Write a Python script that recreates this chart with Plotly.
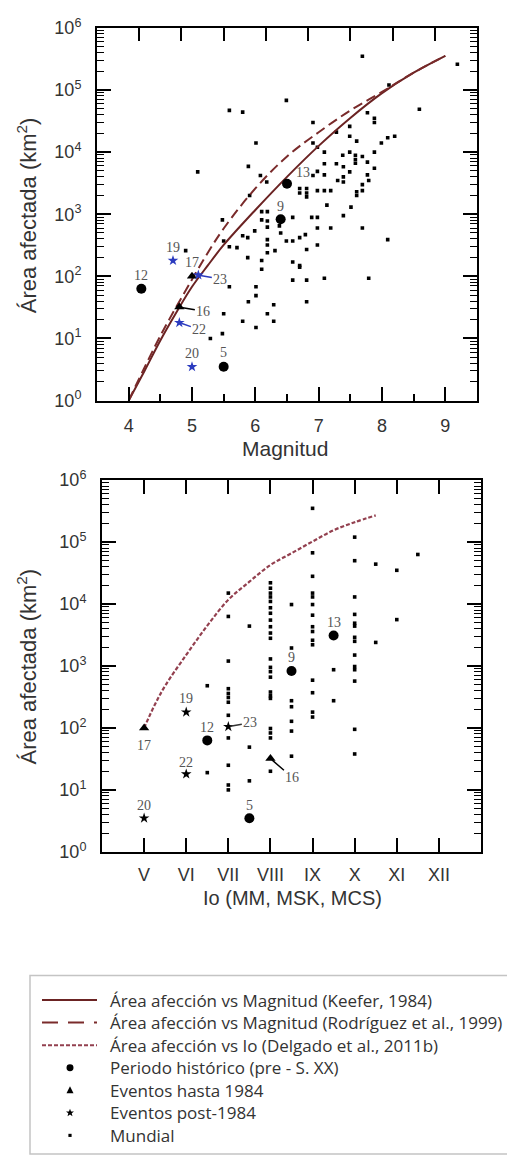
import numpy as np
import plotly.graph_objects as go

# ---------------- data ----------------
keefer_mag = [4.0, 4.25, 4.5, 4.75, 5.0, 5.25, 5.5, 6.0, 6.5, 7.0, 7.5, 8.0, 8.5, 9.0]
keefer_area = [1, 3.0, 9.3, 26, 68, 150, 320, 1170, 4000, 12600, 35500, 89000, 190000, 355000]
rodriguez_mag = [4.0, 4.5, 5.0, 5.25, 5.5, 6.0, 6.5, 7.0, 7.5, 8.0, 8.5, 9.0]
rodriguez_area = [1, 11, 89, 240, 590, 2600, 8500, 20900, 46800, 93000, 190000, 355000]
delgado_io = [5.0, 5.25, 5.5, 6.0, 6.5, 7.0, 7.5, 8.0, 8.5, 9.0, 9.5, 10.0, 10.5]
delgado_area = [100, 234, 480, 1510, 4470, 11700, 22900, 42700, 66000, 102000, 155000, 209000, 269000]

mw_mag = [7.69, 9.19, 8.11, 6.49, 8.59, 5.59, 5.80, 7.77, 7.88, 7.88, 6.91, 7.49, 7.28, 7.49, 7.60,
          6.91, 6.98, 6.01, 8.20, 8.09, 7.99, 7.09, 7.38, 7.49, 7.58, 7.58, 7.58, 7.69, 7.88, 7.77,
          7.09, 7.28, 7.39, 7.49, 7.39, 7.39, 7.30, 7.77, 7.79, 7.88, 6.98, 7.09, 7.69, 7.69, 7.60,
          7.60, 5.89, 6.91, 6.70, 6.70, 6.81, 6.81, 6.81, 6.98, 7.09, 7.19, 7.13, 7.51, 7.39, 6.89,
          6.98, 6.98, 7.19, 7.69, 6.59, 8.09, 6.10, 6.19, 6.10, 6.19, 6.19, 5.99, 6.38, 6.40, 6.49,
          6.59, 6.70, 6.79, 6.98, 6.19, 6.19, 5.80, 5.88, 5.09, 6.08, 6.18, 5.91, 5.48, 5.50, 5.59,
          5.71, 4.90, 6.31, 6.19, 5.88, 6.10, 6.10, 6.59, 6.70, 6.70, 6.81, 6.59, 6.81, 7.09, 7.79,
          6.01, 6.01, 5.89, 6.81, 6.29, 6.19, 6.29, 5.80, 6.01, 5.59, 5.50, 5.48, 5.29]
mw_area = [3.5e5, 2.6e5, 1.2e5, 6.8e4, 4.9e4, 4.7e4, 4.4e4, 4.3e4, 3.5e4, 3.0e4, 3.0e4, 2.6e4, 2.1e4, 1.8e4, 1.5e4,
           1.4e4, 1.2e4, 1.4e4, 1.8e4, 1.7e4, 1.4e4, 1.0e4, 8900, 1.0e4, 8900, 7600, 6600, 8500, 1.0e4, 6900,
           6500, 6500, 5800, 4800, 4000, 3300, 3500, 4300, 3500, 5500, 4900, 4300, 3000, 2400, 2300,
           2000, 5900, 4200, 2600, 2200, 2600, 2200, 1900, 2400, 2400, 2400, 1400, 1300, 950, 890,
           890, 600, 600, 600, 890, 390, 1100, 1100, 810, 780, 620, 540, 650, 500, 370,
           370, 420, 470, 320, 390, 320, 450, 420, 4800, 4200, 3300, 2000, 810, 370, 300,
           290, 260, 260, 240, 200, 180, 130, 170, 150, 140, 270, 87, 87, 93, 93,
           68, 49, 39, 39, 35, 25, 19, 19, 15, 68, 25, 12, 10]
assert len(mw_mag) == len(mw_area)

io_mw = ([6.5] * 2 + [7.0] * 12 + [7.5] * 3 + [8.0] * 22 + [8.5] * 7 + [9.0] * 15 +
         [9.5] * 2 + [10.0] * 14 + [10.5] * 2 + [11.0] * 2 + [11.5])
io_mw_area = [480, 19,
              1.5e4, 6300, 1200, 430, 360, 310, 260, 160, 69, 25, 12, 10,
              4400, 49, 14,
              2.2e4, 1.8e4, 1.5e4, 1.3e4, 1.1e4, 8700, 7100, 5500, 4300, 3400, 2800, 1300, 950, 810,
              660, 380, 330, 300, 98, 83, 69, 20,
              9800, 1950, 275, 220, 128, 89, 35,
              3.5e5, 6.7e4, 2.8e4, 1.5e4, 1.3e4, 9800, 6600, 4300, 3600, 2600, 2200, 590, 370, 180, 150,
              870, 275,
              1.2e5, 5.0e4, 1.3e4, 6800, 4900, 4400, 2900, 2500, 1500, 980, 870, 570, 95, 38,
              4.4e4, 2400,
              3.5e4, 5600,
              6.3e4]
assert len(io_mw) == len(io_mw_area)

hist_id = ["12", "5", "9", "13"]
hist_mag = [4.2, 5.5, 6.4, 6.5]
hist_io = [6.5, 7.5, 8.5, 9.5]
hist_area = [63, 3.5, 830, 3100]

tri_id = ["17", "16"]
tri_mag = [5.0, 4.8]
tri_io = [5.0, 8.0]
tri_area = [100, 32]

star_id = ["19", "23", "22", "20"]
star_mag = [4.7, 5.1, 4.8, 5.0]
star_io = [6.0, 7.0, 6.0, 5.0]
star_area = [180, 105, 18, 3.5]

mag_range = [3.5, 9.5]
top_aux_ticks = [1, 2, 3, 4, 5, 6, 7, 8]      # secondary 0-9 scale drawn on the top edge
top_aux_range = [0, 9]
io_ticks = [5, 6, 7, 8, 9, 10, 11, 12]
io_labels = ["V", "VI", "VII", "VIII", "IX", "X", "XI", "XII"]
io_range = [4, 13]
y_ticks = [1, 10, 100, 1e3, 1e4, 1e5, 1e6]
y_labels = ["10<sup>%d</sup>" % i for i in range(7)]
y_range_log = [0, 6]

legend_labels = ["Área afección vs Magnitud (Keefer, 1984)",
                 "Área afección vs Magnitud (Rodríguez et al., 1999)",
                 "Área afección vs Io (Delgado et al., 2011b)",
                 "Periodo histórico (pre - S. XX)",
                 "Eventos hasta 1984",
                 "Eventos post-1984",
                 "Mundial"]

# ---------------- styles ----------------
OFF = 8                      # html body margin
W, H = 515 - OFF, 1165 - OFF
SANS = "Liberation Sans, Arial, sans-serif"
SERIF = "Liberation Serif, Times New Roman, serif"
C_KEEFER = "#6b2323"
C_ROD = "#7a2b2b"
C_IO = "#93404f"
C_BLUE = "#2b3bbf"
C_AX = "black"

def px(x):
    return (x - OFF) / W

def py(y):
    return 1 - (y - OFF) / H

fig = go.Figure()

fig.add_trace(go.Scatter(x=mw_mag, y=mw_area, mode="markers", xaxis="x", yaxis="y",
                         marker=dict(size=3.6, color="black", symbol="square"), showlegend=False))
fig.add_trace(go.Scatter(x=keefer_mag, y=keefer_area, mode="lines", xaxis="x", yaxis="y",
                         line=dict(color=C_KEEFER, width=2, shape="spline"), showlegend=False))
fig.add_trace(go.Scatter(x=rodriguez_mag, y=rodriguez_area, mode="lines", xaxis="x", yaxis="y",
                         line=dict(color=C_ROD, width=2, dash="10px,5px", shape="spline"), showlegend=False))
fig.add_trace(go.Scatter(x=hist_mag, y=hist_area, mode="markers", xaxis="x", yaxis="y",
                         marker=dict(size=10, color="black"), showlegend=False))
fig.add_trace(go.Scatter(x=tri_mag, y=tri_area, mode="markers", xaxis="x", yaxis="y",
                         marker=dict(size=9, color="black", symbol="triangle-up"), showlegend=False))
fig.add_trace(go.Scatter(x=star_mag, y=star_area, mode="markers", xaxis="x", yaxis="y",
                         marker=dict(size=8, color=C_BLUE, symbol="star"), showlegend=False))
fig.add_trace(go.Scatter(x=[0.5], y=[1], mode="markers", xaxis="x3", yaxis="y",
                         marker=dict(size=1, opacity=0), hoverinfo="skip", showlegend=False))

fig.add_trace(go.Scatter(x=io_mw, y=io_mw_area, mode="markers", xaxis="x2", yaxis="y2",
                         marker=dict(size=3.6, color="black", symbol="square"), showlegend=False))
fig.add_trace(go.Scatter(x=delgado_io, y=delgado_area, mode="lines", xaxis="x2", yaxis="y2",
                         line=dict(color=C_IO, width=2.2, dash="4px,2px", shape="spline"), showlegend=False))
fig.add_trace(go.Scatter(x=hist_io, y=hist_area, mode="markers", xaxis="x2", yaxis="y2",
                         marker=dict(size=10, color="black"), showlegend=False))
fig.add_trace(go.Scatter(x=tri_io, y=tri_area, mode="markers", xaxis="x2", yaxis="y2",
                         marker=dict(size=9, color="black", symbol="triangle-up"), showlegend=False))
fig.add_trace(go.Scatter(x=star_io, y=star_area, mode="markers", xaxis="x2", yaxis="y2",
                         marker=dict(size=8, color="black", symbol="star"), showlegend=False))

annotations = []
shapes = []

# ---- legend ----
rows = [1007, 1030, 1053, 1076, 1099, 1122, 1145]
shapes.append(dict(type="rect", xref="paper", yref="paper", x0=px(30), x1=px(513),
                   y0=py(1164), y1=py(982), line=dict(color="#c4c4c4", width=1.5)))
for r, col, dash in [(rows[0], C_KEEFER, "solid"), (rows[1], C_ROD, "16px,10px"), (rows[2], C_IO, "4px,2px")]:
    shapes.append(dict(type="line", xref="paper", yref="paper", x0=px(42), x1=px(97),
                       y0=py(r), y1=py(r), line=dict(color=col, width=2, dash=dash)))
cx = 70
shapes.append(dict(type="circle", xref="paper", yref="paper", x0=px(cx - 3.5), x1=px(cx + 3.5),
                   y0=py(rows[3] + 3.5), y1=py(rows[3] - 3.5), fillcolor="black", line=dict(width=0)))
shapes.append(dict(type="path", xref="paper", yref="paper",
                   path="M %f %f L %f %f L %f %f Z" % (px(cx), py(rows[4] - 4), px(cx - 3.5), py(rows[4] + 3),
                                                      px(cx + 3.5), py(rows[4] + 3)),
                   fillcolor="black", line=dict(width=0)))
pts = []
for k in range(10):
    ang = np.pi / 2 + k * np.pi / 5
    rr = 4.2 if k % 2 == 0 else 1.8
    pts.append((px(cx + rr * np.cos(ang)), py(rows[5] - rr * np.sin(ang))))
shapes.append(dict(type="path", xref="paper", yref="paper",
                   path="M " + " L ".join("%f %f" % p for p in pts) + " Z",
                   fillcolor="black", line=dict(width=0)))
shapes.append(dict(type="rect", xref="paper", yref="paper", x0=px(cx - 1.6), x1=px(cx + 1.6),
                   y0=py(rows[6] + 1.6), y1=py(rows[6] - 1.6), fillcolor="black", line=dict(width=0)))

for r, t in zip(rows, legend_labels):
    annotations.append(dict(x=px(108), y=py(r), xref="paper", yref="paper", text=t, showarrow=False,
                            xanchor="left", yanchor="middle",
                            font=dict(family="Open Sans, Noto Sans, sans-serif", size=17, color="#333")))

lab_font = dict(family=SERIF, size=14, color="#555")

def lab(x, y, text, xr, yr, dx, dy, arrow=None):
    d = dict(x=x, y=np.log10(y), xref=xr, yref=yr, text=text, font=lab_font)
    if arrow:
        d.update(showarrow=True, arrowhead=0, arrowwidth=1.5, arrowcolor=arrow, ax=dx, ay=dy,
                 standoff=2)
    else:
        d.update(showarrow=False, xshift=dx, yshift=-dy)
    annotations.append(d)

lab(4.2, 63, "12", "x", "y", 0, -13)
lab(5.5, 3.5, "5", "x", "y", 0, -14)
lab(6.4, 830, "9", "x", "y", 0, -13)
lab(6.5, 3100, "13", "x", "y", 16, -11)
lab(5.0, 100, "17", "x", "y", 0, -14)
lab(4.8, 32, "16", "x", "y", 24, 4, arrow="black")
lab(4.7, 180, "19", "x", "y", 0, -13)
lab(5.1, 105, "23", "x", "y", 22, 4, arrow=C_BLUE)
lab(4.8, 18, "22", "x", "y", 20, 7, arrow=C_BLUE)
lab(5.0, 3.5, "20", "x", "y", 0, -13)
lab(6.5, 63, "12", "x2", "y2", 0, -13)
lab(7.5, 3.5, "5", "x2", "y2", 0, -13)
lab(8.5, 830, "9", "x2", "y2", 0, -13)
lab(9.5, 3100, "13", "x2", "y2", 0, -13)
lab(5.0, 100, "17", "x2", "y2", 0, 18)
lab(8.0, 32, "16", "x2", "y2", 22, 19, arrow="black")
lab(6.0, 180, "19", "x2", "y2", 0, -14)
lab(7.0, 105, "23", "x2", "y2", 22, -4, arrow="#333")
lab(6.0, 18, "22", "x2", "y2", 0, -12)
lab(5.0, 3.5, "20", "x2", "y2", 0, -13)

annotations += [
    dict(x=px(285), y=py(445), xref="paper", yref="paper", text="Magnitud", showarrow=False,
         font=dict(family=SANS, size=21, color="#333"), xanchor="center", yanchor="middle"),
    dict(x=px(292), y=py(903), xref="paper", yref="paper", text="Io (MM, MSK, MCS)", showarrow=False,
         font=dict(family=SANS, size=20, color="#333"), xanchor="center", yanchor="middle"),
    dict(x=px(27), y=py(207), xref="paper", yref="paper", text="Área afectada (km<sup>2</sup>)",
         showarrow=False, textangle=-90, font=dict(family=SANS, size=22, color="#333"),
         xanchor="center", yanchor="middle"),
    dict(x=px(27), y=py(667), xref="paper", yref="paper", text="Área afectada (km<sup>2</sup>)",
         showarrow=False, textangle=-90, font=dict(family=SANS, size=22, color="#333"),
         xanchor="center", yanchor="middle"),
]

tickfont = dict(family=SANS, size=18, color="#333")

def yaxis_cfg(domain, anchor):
    return dict(type="log", range=y_range_log, domain=domain, anchor=anchor,
                tickmode="array", tickvals=y_ticks, ticktext=y_labels,
                ticks="inside", ticklen=14, tickwidth=2, tickcolor=C_AX,
                showline=True, linewidth=2, linecolor=C_AX, mirror="ticks",
                showgrid=False, zeroline=False, tickfont=tickfont, ticklabelstandoff=10,
                minor=dict(ticks="inside", ticklen=7, tickwidth=1.2, tickcolor=C_AX,
                           dtick="D1", showgrid=False))

fig.update_layout(
    width=W, height=H, autosize=False,
    margin=dict(l=0, r=0, t=0, b=0),
    paper_bgcolor="white", plot_bgcolor="white",
    showlegend=False,
    xaxis=dict(domain=[px(97), px(477)], anchor="y", range=mag_range, tick0=4, dtick=1,
               ticks="inside", ticklen=14, tickwidth=2, tickcolor=C_AX,
               showline=True, linewidth=2, linecolor=C_AX, mirror=True,
               showgrid=False, zeroline=False, tickfont=tickfont, ticklabelstandoff=8,
               minor=dict(ticks="inside", dtick=0.5, ticklen=7, tickwidth=2, tickcolor=C_AX,
                          showgrid=False)),
    xaxis3=dict(overlaying="x", side="top", anchor="y", range=top_aux_range,
                tickmode="array", tickvals=top_aux_ticks,
                ticks="inside", ticklen=13, tickwidth=2, tickcolor=C_AX,
                showticklabels=False, showline=False, showgrid=False, zeroline=False),
    yaxis=yaxis_cfg([py(396), py(16)], "x"),
    xaxis2=dict(domain=[px(102), px(481)], anchor="y2", range=io_range,
                tickmode="array", tickvals=io_ticks, ticktext=io_labels,
                ticks="inside", ticklen=14, tickwidth=2, tickcolor=C_AX,
                showline=True, linewidth=2, linecolor=C_AX, mirror="ticks",
                showgrid=False, zeroline=False, tickfont=tickfont, ticklabelstandoff=6),
    yaxis2=yaxis_cfg([py(856), py(477)], "x2"),
    annotations=annotations,
    shapes=shapes,
)
fig.write_html("out.html")
